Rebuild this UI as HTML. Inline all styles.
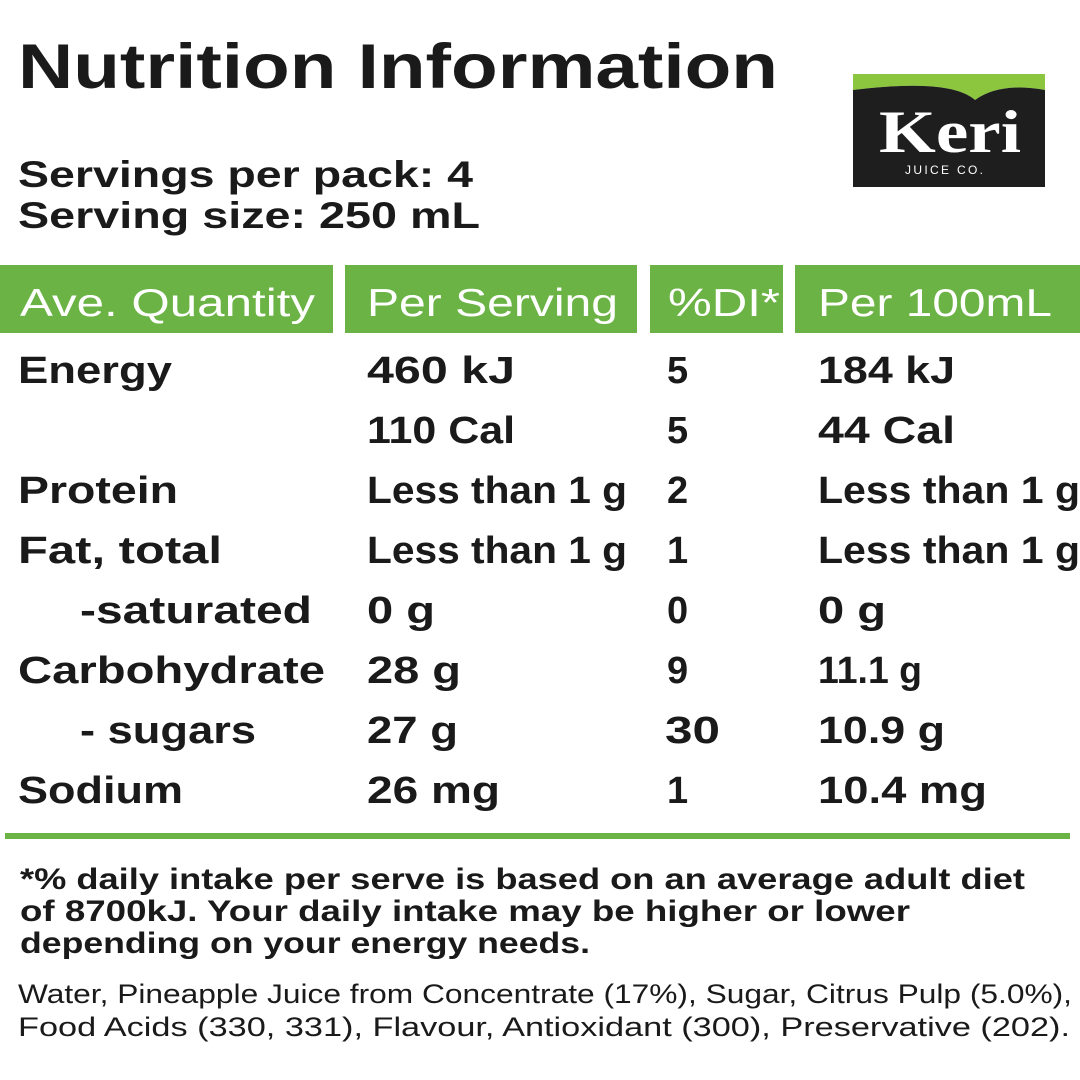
<!DOCTYPE html>
<html><head><meta charset="utf-8"><style>
html,body{margin:0;padding:0;background:#fff;width:1080px;height:1080px;overflow:hidden}
svg{display:block}
text{font-family:"Liberation Sans",sans-serif;fill:#1a1a1a}
.b{font-weight:bold}
.h{fill:#fff;font-size:39px}
.r{font-size:38px;font-weight:bold}
.serif{font-family:"Liberation Serif",serif}
</style></head><body>
<svg width="1080" height="1080" viewBox="0 0 1080 1080" xmlns="http://www.w3.org/2000/svg">
<text x="18" y="88" class="b" font-size="63" textLength="760" lengthAdjust="spacingAndGlyphs">Nutrition Information</text>
<text x="18" y="187" class="b" font-size="37" textLength="455" lengthAdjust="spacingAndGlyphs">Servings per pack: 4</text>
<text x="18" y="228" class="b" font-size="37" textLength="462" lengthAdjust="spacingAndGlyphs">Serving size: 250 mL</text>
<!-- logo -->
<path d="M853 74 L1045 74 L1045 90 Q1000 82 975 100 Q950 78 853 90 Z" fill="#8cc63f"/>
<path d="M853 90 Q950 78 975 100 Q1000 82 1045 90 L1045 187 L853 187 Z" fill="#1e1e1e"/>
<text x="879" y="152" class="serif" font-size="60" font-weight="bold" style="fill:#fff" textLength="142" lengthAdjust="spacingAndGlyphs">Keri</text>
<text x="905" y="174" font-size="12" style="fill:#fff" textLength="78" lengthAdjust="spacing">JUICE CO.</text>
<!-- header -->
<rect x="0" y="265" width="333" height="68" fill="#6ab344"/>
<rect x="345" y="265" width="292" height="68" fill="#6ab344"/>
<rect x="650" y="265" width="133" height="68" fill="#6ab344"/>
<rect x="795" y="265" width="285" height="68" fill="#6ab344"/>
<text x="20" y="316" class="h" textLength="295" lengthAdjust="spacingAndGlyphs">Ave. Quantity</text>
<text x="367" y="316" class="h" textLength="251" lengthAdjust="spacingAndGlyphs">Per Serving</text>
<text x="668" y="316" class="h" textLength="112" lengthAdjust="spacingAndGlyphs">%DI*</text>
<text x="818" y="316" class="h" textLength="234" lengthAdjust="spacingAndGlyphs">Per 100mL</text>
<!-- rows -->
<g class="r">
<text x="18" y="383" class="r" textLength="154" lengthAdjust="spacingAndGlyphs">Energy</text>
<text x="367" y="383" class="r" textLength="148" lengthAdjust="spacingAndGlyphs">460 kJ</text>
<text x="667" y="383" class="r">5</text>
<text x="818" y="383" class="r" textLength="137" lengthAdjust="spacingAndGlyphs">184 kJ</text>
<text x="367" y="443" class="r" textLength="148" lengthAdjust="spacingAndGlyphs">110 Cal</text>
<text x="667" y="443" class="r">5</text>
<text x="818" y="443" class="r" textLength="137" lengthAdjust="spacingAndGlyphs">44 Cal</text>
<text x="18" y="503" class="r" textLength="160" lengthAdjust="spacingAndGlyphs">Protein</text>
<text x="367" y="503" class="r" textLength="260" lengthAdjust="spacingAndGlyphs">Less than 1 g</text>
<text x="667" y="503" class="r">2</text>
<text x="818" y="503" class="r" textLength="262" lengthAdjust="spacingAndGlyphs">Less than 1 g</text>
<text x="18" y="563" class="r" textLength="204" lengthAdjust="spacingAndGlyphs">Fat, total</text>
<text x="367" y="563" class="r" textLength="260" lengthAdjust="spacingAndGlyphs">Less than 1 g</text>
<text x="667" y="563" class="r">1</text>
<text x="818" y="563" class="r" textLength="262" lengthAdjust="spacingAndGlyphs">Less than 1 g</text>
<text x="80" y="623" class="r" textLength="232" lengthAdjust="spacingAndGlyphs">-saturated</text>
<text x="367" y="623" class="r" textLength="68" lengthAdjust="spacingAndGlyphs">0 g</text>
<text x="667" y="623" class="r">0</text>
<text x="818" y="623" class="r" textLength="68" lengthAdjust="spacingAndGlyphs">0 g</text>
<text x="18" y="683" class="r" textLength="307" lengthAdjust="spacingAndGlyphs">Carbohydrate</text>
<text x="367" y="683" class="r" textLength="94" lengthAdjust="spacingAndGlyphs">28 g</text>
<text x="667" y="683" class="r">9</text>
<text x="818" y="683" class="r" textLength="104" lengthAdjust="spacingAndGlyphs">11.1 g</text>
<text x="80" y="743" class="r" textLength="176" lengthAdjust="spacingAndGlyphs">- sugars</text>
<text x="367" y="743" class="r" textLength="91" lengthAdjust="spacingAndGlyphs">27 g</text>
<text x="665" y="743" class="r" textLength="55" lengthAdjust="spacingAndGlyphs">30</text>
<text x="818" y="743" class="r" textLength="127" lengthAdjust="spacingAndGlyphs">10.9 g</text>
<text x="18" y="803" class="r" textLength="165" lengthAdjust="spacingAndGlyphs">Sodium</text>
<text x="367" y="803" class="r" textLength="133" lengthAdjust="spacingAndGlyphs">26 mg</text>
<text x="667" y="803" class="r">1</text>
<text x="818" y="803" class="r" textLength="169" lengthAdjust="spacingAndGlyphs">10.4 mg</text>
</g>
<rect x="5" y="833" width="1065" height="6" fill="#6ab344"/>
<text x="20" y="889" class="b" font-size="30" textLength="1005" lengthAdjust="spacingAndGlyphs">*% daily intake per serve is based on an average adult diet</text>
<text x="20" y="921" class="b" font-size="30" textLength="890" lengthAdjust="spacingAndGlyphs">of 8700kJ. Your daily intake may be higher or lower</text>
<text x="20" y="953" class="b" font-size="30" textLength="570" lengthAdjust="spacingAndGlyphs">depending on your energy needs.</text>
<text x="18" y="1003" font-size="27" textLength="1054" lengthAdjust="spacingAndGlyphs">Water, Pineapple Juice from Concentrate (17%), Sugar, Citrus Pulp (5.0%),</text>
<text x="18" y="1036" font-size="27" textLength="1052" lengthAdjust="spacingAndGlyphs">Food Acids (330, 331), Flavour, Antioxidant (300), Preservative (202).</text>
</svg>
</body></html>
